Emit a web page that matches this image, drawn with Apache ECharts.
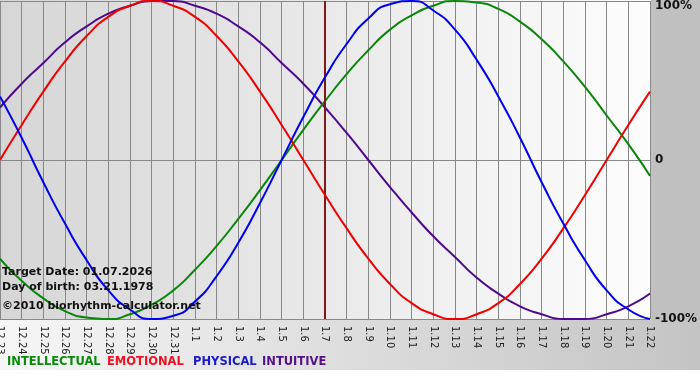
<!DOCTYPE html>
<html>
<head>
<meta charset="utf-8">
<script src="https://cdn.jsdelivr.net/npm/echarts@6/dist/echarts.min.js"></script>
<style>
html,body{margin:0;padding:0;background:#fff;}
#chart{width:700px;height:380px;}
</style>
</head>
<body>
<div id="chart"></div>
<script>
var categories = ['12.23','12.24','12.25','12.26','12.27','12.28','12.29','12.30','12.31',
  '1.1','1.2','1.3','1.4','1.5','1.6','1.7','1.8','1.9','1.10','1.11','1.12','1.13','1.14',
  '1.15','1.16','1.17','1.18','1.19','1.20','1.21','1.22'];

var intellectual = [-0.62,-0.76,-0.87,-0.95,-0.99,-1.00,-0.97,-0.91,-0.82,-0.69,-0.54,-0.37,-0.19,
  0.00,0.19,0.37,0.54,0.69,0.82,0.91,0.97,1.00,0.99,0.95,0.87,0.76,0.62,0.46,0.28,0.10,-0.10];
var emotional = [0.00,0.22,0.43,0.62,0.78,0.90,0.97,1.00,0.97,0.90,0.78,0.62,0.43,0.22,0.00,
  -0.22,-0.43,-0.62,-0.78,-0.90,-0.97,-1.00,-0.97,-0.90,-0.78,-0.62,-0.43,-0.22,0.00,0.22,0.43];
var physical = [0.40,0.14,-0.14,-0.40,-0.63,-0.82,-0.94,-1.00,-0.98,-0.89,-0.73,-0.52,-0.27,
  0.00,0.27,0.52,0.73,0.89,0.98,1.00,0.94,0.82,0.63,0.40,0.14,-0.14,-0.40,-0.63,-0.82,-0.94,-1.00];
var intuitive = [0.33,0.48,0.61,0.74,0.84,0.92,0.97,1.00,1.00,0.97,0.92,0.84,0.74,0.61,0.48,
  0.33,0.17,0.00,-0.17,-0.33,-0.48,-0.61,-0.74,-0.84,-0.92,-0.97,-1.00,-1.00,-0.97,-0.92,-0.84];

var yTicks = {'1':'100%','0':'0','-1':'-100%'};
var targetCategory = '1.7';
var infoLines = ['Target Date: 01.07.2026','Day of birth: 03.21.1978','\u00a92010 biorhythm-calculator.net'];
var legendNames = ['INTELLECTUAL','EMOTIONAL','PHYSICAL','INTUITIVE'];

var colors = {
  INTELLECTUAL:'#0a860a', EMOTIONAL:'#f00000', PHYSICAL:'#0000f0', INTUITIVE:'#4e0a8e'
};
var legendColors = {
  INTELLECTUAL:'#0a8a0a', EMOTIONAL:'#ee1122', PHYSICAL:'#1a1acc', INTUITIVE:'#551188'
};

var chart = echarts.init(document.getElementById('chart'), null, {renderer:'canvas'});

var FONT = 'DejaVu Sans';
var legendX = [7, 107, 193, 262];

var graphics = [
  {type:'rect', z:-10, shape:{x:0,y:0,width:651,height:320},
   style:{fill:new echarts.graphic.LinearGradient(0,0,1,0,[{offset:0,color:'#d6d6d6'},{offset:1,color:'#fdfdfd'}])}},
  {type:'rect', z:-10, shape:{x:651,y:0,width:49,height:320}, style:{fill:'#c0c0c0'}},
  {type:'rect', z:-10, shape:{x:0,y:320,width:700,height:50},
   style:{fill:new echarts.graphic.LinearGradient(0,0,1,0,[{offset:0,color:'#f6f6f6'},{offset:1,color:'#c4c4c4'}])}}
];
var infoY = [272, 287, 306];
infoLines.forEach(function(t,i){
  graphics.push({type:'text', z:100, x:2, y:infoY[i],
    style:{text:t, fill:'#111', font:'bold 11px "DejaVu Sans"', verticalAlign:'middle', align:'left'}});
});
legendNames.forEach(function(n,i){
  graphics.push({type:'text', z:100, x:legendX[i], y:362,
    style:{text:n, fill:legendColors[n], font:'bold 11.5px "DejaVu Sans"', verticalAlign:'middle', align:'left'}});
});

function mkSeries(name, data, z){
  return {name:name, type:'line', data:data, smooth:0.6, symbol:'none', z:z,
    lineStyle:{color:colors[name], width:2}, itemStyle:{color:colors[name]}};
}

var s1 = mkSeries('INTUITIVE', intuitive, 3);
var s2 = mkSeries('INTELLECTUAL', intellectual, 4);
var s3 = mkSeries('EMOTIONAL', emotional, 5);
var s4 = mkSeries('PHYSICAL', physical, 6);
s1.markLine = {silent:true, symbol:'none', label:{show:false},
  lineStyle:{color:'#801818', width:2, type:'solid'}, data:[{xAxis:targetCategory}]};

chart.setOption({
  animation:false,
  backgroundColor:'#ffffff',
  grid:{left:0, right:50, top:1, bottom:61, containLabel:false, outerBoundsMode:'none'},
  xAxis:{type:'category', data:categories, boundaryGap:false,
    axisLine:{show:true, lineStyle:{color:'#888', width:1}},
    axisTick:{show:true, interval:0, length:5, lineStyle:{color:'#888'}},
    axisLabel:{interval:0, rotate:-90, fontSize:10, fontFamily:FONT, color:'#222', margin:7},
    splitLine:{show:true, interval:0, lineStyle:{color:'#888', width:1}}},
  yAxis:{type:'value', min:-1, max:1, interval:1, position:'right',
    axisLine:{show:false}, axisTick:{show:false},
    axisLabel:{margin:5, fontSize:12, fontWeight:'bold', fontFamily:FONT, color:'#111',
      formatter:function(v){ var s = yTicks[String(v)]; return v===1 ? '{t|'+s+'}' : s; },
      rich:{t:{padding:[10,0,0,0], fontSize:12, fontWeight:'bold', fontFamily:FONT, color:'#111'}}},
    splitLine:{show:true, lineStyle:{color:'#888', width:1}}},
  graphic:graphics,
  series:[s1,s2,s3,s4]
});
</script>
</body>
</html>
